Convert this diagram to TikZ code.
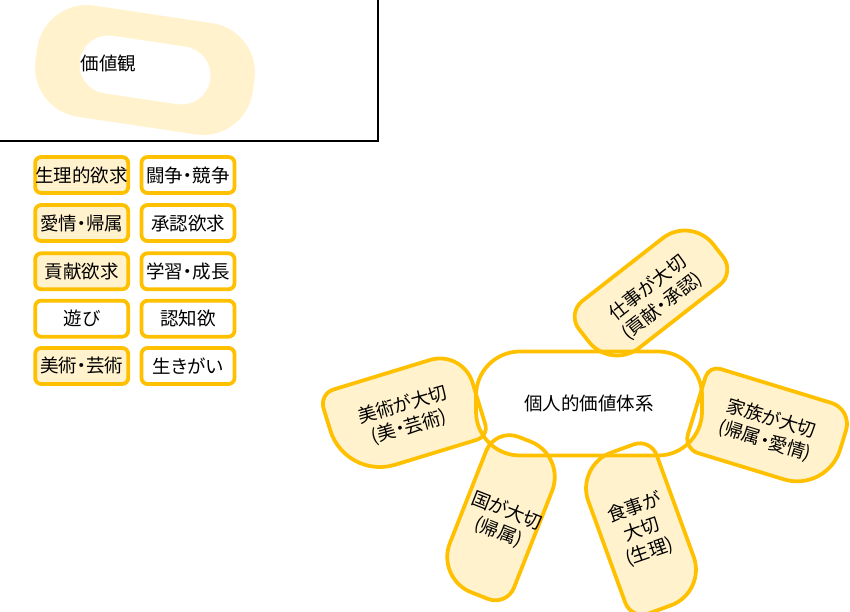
\documentclass[tikz,border=0pt]{standalone}
\usepackage{fontspec}
\setmainfont{Noto Sans CJK JP}[RawFeature=+palt]
\definecolor{gold}{HTML}{FFC000}
\definecolor{lightgold}{HTML}{FFF2CC}
% rounded rectangle centred at origin: w, h, radius TL, TR, BR, BL
\newcommand\petalpath[6]{%
  ({#1/2},{#2/2-#4}) arc[start angle=0,end angle=90,radius=#4]
  -- ({-#1/2+#3},{#2/2}) arc[start angle=90,end angle=180,radius=#3]
  -- ({-#1/2},{-#2/2+#6}) arc[start angle=180,end angle=270,radius=#6]
  -- ({#1/2-#5},{-#2/2}) arc[start angle=270,end angle=360,radius=#5]
  -- cycle}
\begin{document}
\begin{tikzpicture}[x=1pt,y=1pt,
  every node/.style={font=\fontsize{18.5}{23}\selectfont},
  lbox/.style={draw=gold, line width=3.75pt, rounded corners=6pt, minimum width=93pt, minimum height=36pt, inner sep=0pt},
  petalfill/.style={fill=lightgold},
  petalline/.style={draw=gold, line width=3.75pt},
  ptext/.style={align=center, inner sep=0pt},
  corebox/.style={draw=gold, fill=white, line width=3.75pt, rounded corners=44pt, minimum width=226pt, minimum height=104pt, inner sep=0pt}
]
\useasboundingbox (0,0) rectangle (850,612);
% frame
\draw[line width=1.2pt] (0,471) -- (378,471) -- (378,612);
% value ring
\begin{scope}[shift={(145,542)}, rotate=-8.5]
  \fill[lightgold, rounded corners=50pt] (-109.75,-56.2) rectangle (109.75,56.2);
  \fill[white, rounded corners=29pt] (-65.9,-29.05) rectangle (65.9,29.05);
\end{scope}
\node (kachikan) at (108.5,549) {価値観};
% legend
\node[lbox, fill=lightgold] (n1) at (81.7,437) {生理的欲求};
\node[lbox, fill=white] (n2) at (188,437) {闘争・競争};
\node[lbox, fill=lightgold] (n3) at (81.7,389) {愛情・帰属};
\node[lbox, fill=white] (n4) at (188,389) {承認欲求};
\node[lbox, fill=lightgold] (n5) at (81.7,340.7) {貢献欲求};
\node[lbox, fill=white] (n6) at (188,340.7) {学習・成長};
\node[lbox, fill=white] (n7) at (81.7,293.3) {遊び};
\node[lbox, fill=white] (n8) at (188,293.3) {認知欲};
\node[lbox, fill=lightgold] (n9) at (81.7,246) {美術・芸術};
\node[lbox, fill=white] (n10) at (188,246) {生きがい};
% petal fills
\fill[petalfill, shift={(651,319)}, rotate=38] \petalpath{158}{72}{20}{36}{20}{36};
\fill[petalfill, shift={(404,197)}, rotate=17] \petalpath{150}{90}{15}{34}{12}{52};
\fill[petalfill, shift={(768,183)}, rotate=-17] \petalpath{150}{87}{12}{22}{45}{15};
\fill[petalfill, shift={(501,95)}, rotate=-21.5] \petalpath{76}{162}{25}{38}{20}{38};
\fill[petalfill, shift={(641,83)}, rotate=20] \petalpath{80}{164}{38}{18}{38}{18};
% core
\node[corebox] (core) at (589,208.5) {個人的価値体系};
% petal outlines
\draw[petalline, shift={(651,319)}, rotate=38] \petalpath{158}{72}{20}{36}{20}{36};
\draw[petalline, shift={(404,197)}, rotate=17] \petalpath{150}{90}{15}{34}{12}{52};
\draw[petalline, shift={(768,183)}, rotate=-17] \petalpath{150}{87}{12}{22}{45}{15};
\draw[petalline, shift={(501,95)}, rotate=-21.5] \petalpath{76}{162}{25}{38}{20}{38};
\draw[petalline, shift={(641,83)}, rotate=20] \petalpath{80}{164}{38}{18}{38}{18};
% petal texts
\node[ptext, rotate=38] (work) at (655,315) {仕事が大切\\(貢献・承認)};
\node[ptext, rotate=16] (art) at (406,196) {美術が大切\\(美・芸術)};
\node[ptext, rotate=-17] (family) at (768,182) {家族が大切\\(帰属・愛情)};
\node[ptext, rotate=-21.5] (nation) at (502.5,90.3) {国が大切\\(帰属)};
\node[ptext, rotate=19] (food) at (642,82) {食事が\\大切\\(生理)};
\end{tikzpicture}
\end{document}
